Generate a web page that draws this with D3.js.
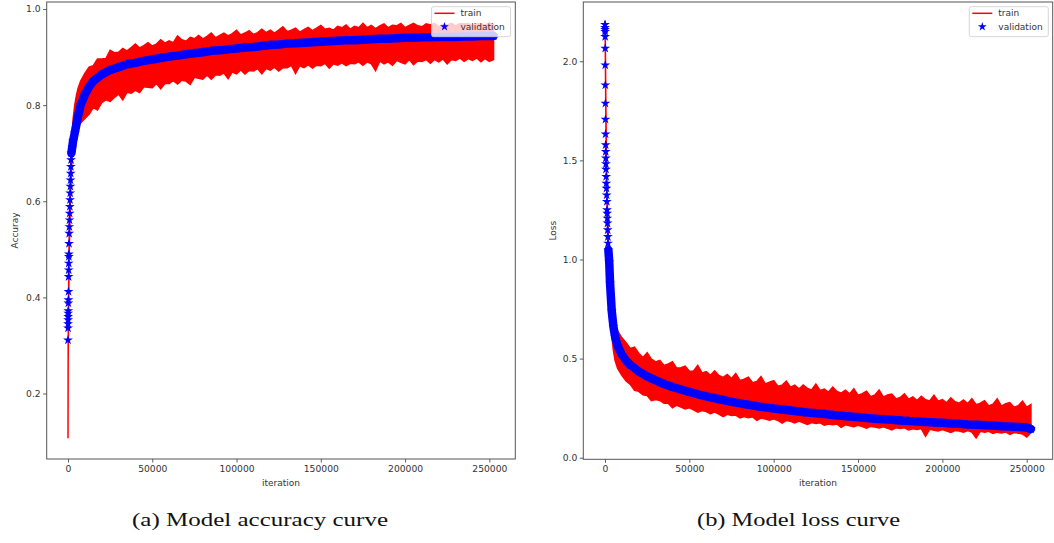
<!DOCTYPE html>
<html>
<head>
<meta charset="utf-8">
<script src="https://cdn.jsdelivr.net/npm/d3@7"></script>
<style>
  body { margin: 0; background: #fff; }
  svg { display: block; }
  text { font-family: "DejaVu Sans", sans-serif; }
</style>
</head>
<body>
<svg id="chart" width="1054" height="543"></svg>
<script>
// iterations at which the (noisy) training curve envelope was read
const trainIter = [0, 100, 250, 500, 750, 1000, 1500, 2000, 2500, 3000, 4000, 5000, 6000, 7500, 10000,
  12500, 15000, 17500, 20000, 22500, 25000, 27500, 30000, 32500, 35000, 37500, 40000, 42500, 45000, 47500, 50000,
  52500, 55000, 57500, 60000, 62500, 65000, 67500, 70000, 72500, 75000, 77500, 80000, 82500, 85000, 87500, 90000,
  92500, 95000, 97500, 100000, 102500, 105000, 107500, 110000, 112500, 115000, 117500, 120000, 122500, 125000, 127500, 130000,
  132500, 135000, 137500, 140000, 142500, 145000, 147500, 150000, 152500, 155000, 157500, 160000, 162500, 165000, 167500, 170000,
  172500, 175000, 177500, 180000, 182500, 185000, 187500, 190000, 192500, 195000, 197500, 200000, 202500, 205000, 207500, 210000,
  212500, 215000, 217500, 220000, 222500, 225000, 227500, 230000, 232500, 235000, 237500, 240000, 242500, 245000, 247500, 250000, 252500]

const accUpper = [0.107, 0.30, 0.38, 0.47, 0.54, 0.59, 0.66, 0.71, 0.745, 0.77, 0.80, 0.82, 0.835, 0.85, 0.866,
  0.879, 0.882, 0.896, 0.896, 0.897, 0.914, 0.909, 0.910, 0.918, 0.913, 0.920, 0.927, 0.919, 0.924, 0.930, 0.923,
  0.927, 0.936, 0.929, 0.934, 0.930, 0.944, 0.936, 0.933, 0.941, 0.938, 0.945, 0.938, 0.943, 0.950, 0.940, 0.945,
  0.950, 0.944, 0.949, 0.956, 0.946, 0.950, 0.955, 0.947, 0.951, 0.958, 0.951, 0.956, 0.950, 0.956, 0.963, 0.953,
  0.956, 0.960, 0.952, 0.957, 0.962, 0.955, 0.960, 0.966, 0.958, 0.960, 0.956, 0.964, 0.961, 0.967, 0.958, 0.964,
  0.961, 0.970, 0.961, 0.966, 0.959, 0.965, 0.969, 0.961, 0.966, 0.965, 0.970, 0.961, 0.966, 0.970, 0.965, 0.963,
  0.969, 0.967, 0.970, 0.963, 0.968, 0.967, 0.970, 0.965, 0.970, 0.969, 0.970, 0.965, 0.970, 0.969, 0.967, 0.971, 0.968]

const accLower = [0.107, 0.27, 0.33, 0.42, 0.49, 0.54, 0.61, 0.66, 0.69, 0.71, 0.73, 0.745, 0.755, 0.763, 0.772,
  0.781, 0.795, 0.790, 0.805, 0.811, 0.808, 0.816, 0.823, 0.811, 0.827, 0.825, 0.831, 0.826, 0.838, 0.837, 0.836,
  0.845, 0.834, 0.845, 0.845, 0.851, 0.844, 0.852, 0.850, 0.843, 0.858, 0.856, 0.854, 0.863, 0.854, 0.863, 0.862,
  0.867, 0.855, 0.869, 0.865, 0.873, 0.865, 0.872, 0.871, 0.876, 0.865, 0.876, 0.873, 0.879, 0.871, 0.878, 0.878,
  0.883, 0.866, 0.882, 0.878, 0.884, 0.877, 0.883, 0.882, 0.887, 0.877, 0.886, 0.883, 0.888, 0.882, 0.887, 0.886,
  0.890, 0.883, 0.890, 0.886, 0.872, 0.892, 0.886, 0.890, 0.883, 0.893, 0.889, 0.886, 0.895, 0.884, 0.892, 0.891,
  0.895, 0.887, 0.895, 0.890, 0.896, 0.886, 0.895, 0.893, 0.898, 0.891, 0.897, 0.893, 0.898, 0.890, 0.897, 0.891, 0.895]

const lossUpper = [2.205, 2.17, 2.05, 1.80, 1.60, 1.45, 1.25, 1.10, 0.99, 0.90, 0.78, 0.71, 0.675, 0.64, 0.605,
  0.580, 0.551, 0.558, 0.527, 0.506, 0.530, 0.497, 0.483, 0.491, 0.465, 0.473, 0.484, 0.452, 0.454, 0.462, 0.436,
  0.438, 0.466, 0.428, 0.435, 0.416, 0.438, 0.415, 0.405, 0.420, 0.400, 0.425, 0.390, 0.396, 0.406, 0.378, 0.385,
  0.409, 0.372, 0.381, 0.389, 0.361, 0.366, 0.386, 0.356, 0.366, 0.347, 0.367, 0.350, 0.342, 0.372, 0.339, 0.346,
  0.331, 0.356, 0.334, 0.326, 0.341, 0.322, 0.348, 0.315, 0.323, 0.335, 0.308, 0.316, 0.341, 0.305, 0.316, 0.321,
  0.297, 0.304, 0.322, 0.295, 0.307, 0.288, 0.310, 0.292, 0.286, 0.315, 0.285, 0.293, 0.277, 0.302, 0.282, 0.275,
  0.291, 0.273, 0.298, 0.267, 0.275, 0.288, 0.261, 0.270, 0.297, 0.260, 0.272, 0.278, 0.255, 0.262, 0.285, 0.255, 0.268]

const lossLower = [2.200, 2.12, 1.98, 1.72, 1.52, 1.36, 1.15, 1.00, 0.88, 0.76, 0.62, 0.54, 0.49, 0.45, 0.415,
  0.387, 0.370, 0.340, 0.335, 0.317, 0.314, 0.288, 0.293, 0.289, 0.275, 0.275, 0.252, 0.265, 0.256, 0.246, 0.252,
  0.242, 0.230, 0.238, 0.233, 0.222, 0.230, 0.220, 0.207, 0.219, 0.213, 0.215, 0.201, 0.208, 0.202, 0.206, 0.189,
  0.200, 0.195, 0.189, 0.196, 0.188, 0.174, 0.188, 0.184, 0.176, 0.185, 0.176, 0.168, 0.177, 0.173, 0.176, 0.164,
  0.170, 0.166, 0.170, 0.153, 0.166, 0.161, 0.156, 0.164, 0.157, 0.149, 0.158, 0.155, 0.150, 0.156, 0.149, 0.140,
  0.151, 0.147, 0.151, 0.140, 0.146, 0.142, 0.147, 0.108, 0.143, 0.139, 0.135, 0.142, 0.135, 0.128, 0.137, 0.135,
  0.129, 0.137, 0.130, 0.100, 0.133, 0.129, 0.133, 0.123, 0.129, 0.125, 0.130, 0.117, 0.127, 0.124, 0.120, 0.104, 0.126]

// validation checkpoints (star markers)
const valIter = [0, 25, 50, 75, 100, 125, 150, 200, 250, 300,
  350, 400, 450, 500, 550, 600, 700, 800, 900, 1000,
  1100, 1200, 1300, 1400, 1500, 1600, 1700, 1800, 2000, 2500,
  3000, 4000, 5000, 6000, 7500, 10000, 12500,
  15000, 20000, 25000, 30000, 35000, 40000, 45000, 50000, 55000, 60000,
  65000, 70000, 75000, 80000, 85000, 90000, 95000, 100000, 105000, 110000,
  115000, 120000, 125000, 130000, 135000, 140000, 145000, 150000, 155000, 160000,
  165000, 170000, 175000, 180000, 185000, 190000, 195000, 200000, 205000, 210000,
  215000, 220000, 225000, 230000, 235000, 240000, 245000, 250000, 252500]

const accVal = [0.311, 0.336, 0.345, 0.353, 0.360, 0.367, 0.372, 0.388, 0.395, 0.412,
  0.443, 0.457, 0.471, 0.485, 0.490, 0.512, 0.533, 0.547, 0.561, 0.575,
  0.589, 0.603, 0.617, 0.631, 0.644, 0.658, 0.672, 0.686, 0.700, 0.712,
  0.725, 0.742, 0.760, 0.778, 0.800, 0.822, 0.838,
  0.850, 0.864, 0.873, 0.879, 0.885, 0.888, 0.892, 0.895, 0.898, 0.901,
  0.903, 0.906, 0.908, 0.910, 0.913, 0.914, 0.916, 0.918, 0.920, 0.921,
  0.923, 0.925, 0.926, 0.928, 0.929, 0.930, 0.931, 0.932, 0.933, 0.934,
  0.935, 0.935, 0.936, 0.937, 0.938, 0.938, 0.939, 0.940, 0.940, 0.941,
  0.941, 0.942, 0.942, 0.942, 0.943, 0.943, 0.944, 0.944, 0.944]

const lossVal = [2.185, 2.170, 2.160, 2.150, 2.124, 2.065, 1.981, 1.880, 1.788, 1.707,
  1.633, 1.578, 1.544, 1.511, 1.482, 1.455, 1.418, 1.384, 1.359, 1.325,
  1.292, 1.250, 1.233, 1.208, 1.183, 1.149, 1.115, 1.082, 1.048, 0.990,
  0.880, 0.740, 0.660, 0.610, 0.565, 0.520, 0.490,
  0.468, 0.435, 0.410, 0.390, 0.372, 0.357, 0.344, 0.332, 0.320, 0.310,
  0.300, 0.291, 0.282, 0.274, 0.267, 0.260, 0.254, 0.248, 0.243, 0.238,
  0.233, 0.228, 0.224, 0.220, 0.216, 0.212, 0.208, 0.204, 0.200, 0.197,
  0.194, 0.191, 0.188, 0.185, 0.183, 0.180, 0.178, 0.176, 0.173, 0.171,
  0.168, 0.166, 0.164, 0.162, 0.159, 0.157, 0.155, 0.152, 0.145]

const xTicks = [0, 50000, 100000, 150000, 200000, 250000]
const accTicks = [0.2, 0.4, 0.6, 0.8, 1.0]
const lossTicks = [0.0, 0.5, 1.0, 1.5, 2.0]
const legendLabels = ['train', 'validation']

const panels = [
  {
    upper: accUpper, lower: accLower, val: accVal, ticks: accTicks, yLabel: 'Accuray',
    left: 46.7, right: 515.3, top: 2, bottom: 459,
    xDomain: [-12640, 265400], yDomain: [0.0637, 1.0146], yLabelX: 15, legendX: 431.5,
    caption: '(a) Model accuracy curve', capX: 132, capW: 256
  },
  {
    upper: lossUpper, lower: lossLower, val: lossVal, ticks: lossTicks, yLabel: 'Loss',
    left: 583.3, right: 1052.7, top: 2, bottom: 459.3,
    xDomain: [-12860, 265400], yDomain: [-0.008, 2.299], yLabelX: 553, legendX: 969.3,
    caption: '(b) Model loss curve', capX: 697, capW: 203
  }
]

const svg = d3.select('#chart')
const star = d3.symbol().type(d3.symbolStar).size(30)

panels.forEach(p => {
  const x = d3.scaleLinear().domain(p.xDomain).range([p.left, p.right])
  const y = d3.scaleLinear().domain(p.yDomain).range([p.bottom, p.top])
  const g = svg.append('g')

  const clipId = 'clip' + p.left
  g.append('clipPath').attr('id', clipId)
    .append('rect')
    .attr('x', p.left).attr('y', p.top)
    .attr('width', p.right - p.left).attr('height', p.bottom - p.top)
  const plot = g.append('g').attr('clip-path', `url(#${clipId})`)

  // train: noisy band between the read envelopes
  const band = trainIter.map((it, i) => ({ it, hi: p.upper[i], lo: p.lower[i] }))
  const area = d3.area()
    .x(d => x(d.it))
    .y0(d => y(d.lo))
    .y1(d => y(d.hi))
  plot.append('path')
    .attr('d', area(band))
    .attr('fill', '#ff0000')
    .attr('stroke', '#ff0000')
    .attr('stroke-width', 1.5)
    .attr('stroke-linejoin', 'miter')

  // validation stars; dense checkpoints merge into a thick band
  const vals = valIter.map((it, i) => ({ it, v: p.val[i] }))
  const line = d3.line().x(d => x(d.it)).y(d => y(d.v))
  plot.append('path')
    .attr('d', line(vals.filter(d => d.it >= 2000)))
    .attr('fill', 'none')
    .attr('stroke', '#0000ff')
    .attr('stroke-width', 8.5)
    .attr('stroke-linejoin', 'round')
    .attr('stroke-linecap', 'round')
  plot.selectAll('path.star')
    .data(vals)
    .join('path')
    .attr('class', 'star')
    .attr('d', star)
    .attr('transform', d => `translate(${x(d.it)},${y(d.v)})`)
    .attr('fill', '#0000ff')

  // axes
  const xAxis = d3.axisBottom(x).tickValues(xTicks).tickFormat(d3.format('d'))
    .tickSizeOuter(0).tickSize(3.5).tickPadding(2.5)
  const yAxis = d3.axisLeft(y).tickValues(p.ticks).tickFormat(d3.format('.1f'))
    .tickSizeOuter(0).tickSize(3.5).tickPadding(2.5)
  const gx = g.append('g').attr('transform', `translate(0,${p.bottom})`).call(xAxis)
  const gy = g.append('g').attr('transform', `translate(${p.left},0)`).call(yAxis)
  ;[gx, gy].forEach(a => {
    a.select('.domain').remove()
    a.selectAll('line').attr('stroke', '#333').attr('stroke-width', 0.8)
    a.selectAll('text').attr('fill', '#333').style('font-size', '9.2px').style('font-family', '"DejaVu Sans", sans-serif')
  })

  g.append('rect')
    .attr('x', p.left).attr('y', p.top)
    .attr('width', p.right - p.left).attr('height', p.bottom - p.top)
    .attr('fill', 'none').attr('stroke', '#555').attr('stroke-width', 1)

  g.append('text')
    .attr('x', (p.left + p.right) / 2).attr('y', 486)
    .attr('text-anchor', 'middle').attr('fill', '#333').style('font-size', '9px')
    .text('iteration')
  g.append('text')
    .attr('transform', `translate(${p.yLabelX + 3},${(p.top + p.bottom) / 2}) rotate(-90)`)
    .attr('text-anchor', 'middle').attr('fill', '#333').style('font-size', '9px')
    .text(p.yLabel)

  // legend
  const lg = g.append('g').attr('transform', `translate(${p.legendX},6.7)`)
  lg.append('rect')
    .attr('width', 79).attr('height', 30).attr('rx', 2)
    .attr('fill', '#fff').attr('fill-opacity', 0.8)
    .attr('stroke', '#ccc').attr('stroke-width', 0.8)
  lg.append('line')
    .attr('x1', 3).attr('x2', 23).attr('y1', 6.6).attr('y2', 6.6)
    .attr('stroke', '#ff0000').attr('stroke-width', 1.5)
  lg.append('path')
    .attr('d', d3.symbol().type(d3.symbolStar).size(24))
    .attr('transform', 'translate(13,20)')
    .attr('fill', '#0000ff')
  lg.selectAll('text.lbl')
    .data(legendLabels)
    .join('text')
    .attr('class', 'lbl')
    .attr('x', 29)
    .attr('y', (d, i) => 9.8 + i * 13.4)
    .attr('fill', '#333').style('font-size', '9px')
    .text(d => d)

  // caption under each panel
  svg.append('text')
    .attr('x', p.capX).attr('y', 526)
    .attr('textLength', p.capW).attr('lengthAdjust', 'spacingAndGlyphs')
    .style('font-family', '"Liberation Serif", "DejaVu Serif", serif')
    .style('font-size', '19px').attr('fill', '#111')
    .text(p.caption)
})
</script>
</body>
</html>
